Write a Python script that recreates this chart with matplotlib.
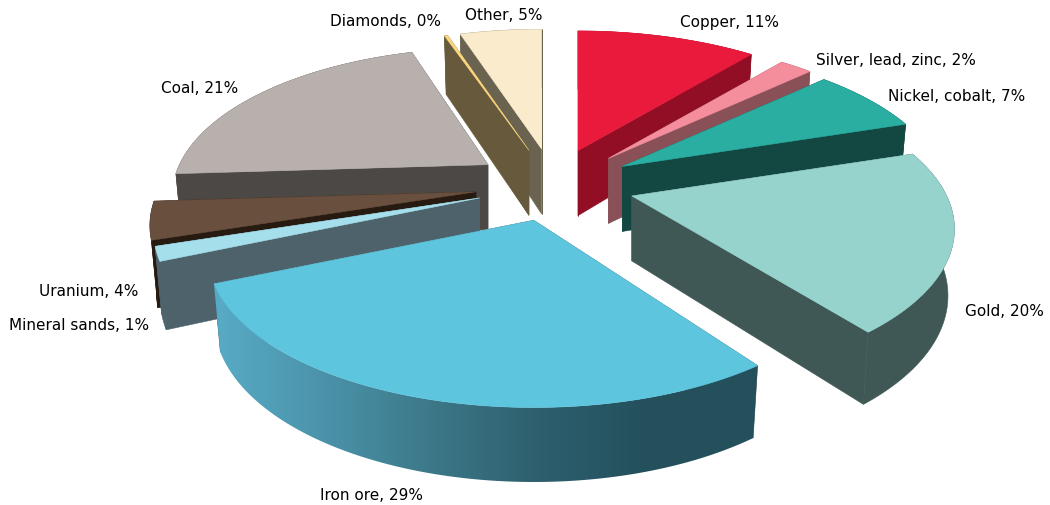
import numpy as np
import matplotlib
matplotlib.use('Agg')
import matplotlib.pyplot as plt
from matplotlib.colors import LinearSegmentedColormap
from matplotlib.patches import Polygon

# -------------------- Data --------------------
names = ['Copper', 'Silver, lead, zinc', 'Nickel, cobalt', 'Gold', 'Iron ore',
         'Mineral sands', 'Uranium', 'Coal', 'Diamonds', 'Other']
percent_labels = [11, 2, 7, 20, 29, 1, 4, 21, 0, 5]
# a bit finer than the rounded labels
shares = [11, 2, 7, 19.7, 28.8, 1.5, 4, 20.8, 0.2, 5]

# -------------------- Style --------------------
top_colors = ['#e91a3c', '#f48d9c', '#2baea2', '#96d3cd', '#5ec5de',
              '#a6dfec', '#694f3e', '#b8b0ac', '#fcd77f', '#fbebcd']
wall_colors = ['#920e24', '#8a5058', '#134842', '#3f5855', '#4d626b',
               '#4d626b', '#271a10', '#4b4845', '#675a3c', '#69634f']
radius_scale = [1, 1, 1, 0.99, 1, 1, 1, 0.97, 1, 1]
# small per slice corrections for the original's uneven perspective
trim_start = [0, 0, 0, 0, 0.5, 0, 0, 0, 0, 0]
trim_end = [0, 0, 0, 0.4, 0, 0, 0, -0.4, 0, 0]
nudge_x = [-3, 0, 0, 2, 0, 0, 0, 0, 0, 0]
draw_order = [7, 6, 5, 9, 8, 0, 1, 2, 3, 4]
iron_index = 4
iron_ramp = LinearSegmentedColormap.from_list(
    'iron', ['#58abc6', '#4b93aa', '#3c7888', '#2d5f6e', '#24505c', '#24505c'])

label_xy = [(729, 22), (896, 60), (957, 96), (1004, 312), (371, 496),
            (79, 325), (89, 292), (200, 88), (385, 21), (504, 15)]

CX, CY = 554, 186
RX, RY = 318, 146
PERSP = 0.22
EXPLODE = 0.25
DEPTH = 65


def project(u, v):
    s = 1 / (1 - PERSP * v)
    return RX * u * s, RY * v * s


def unit(theta):
    return np.sin(theta), -np.cos(theta)


def drop(x, y, v):
    # bottom edge of the slice, a bit narrower and deeper towards the viewer
    s = 1 / (1 - PERSP * v)
    return x * 0.98, y + DEPTH * s ** 0.55


fig = plt.figure(figsize=(10.5, 5.06), dpi=100)
ax = fig.add_axes([0, 0, 1, 1])
ax.set_xlim(0, 1050)
ax.set_ylim(506, 0)
ax.axis('off')

edges = np.cumsum([0] + shares) / sum(shares) * 2 * np.pi
pct_to_rad = 2 * np.pi / 100

for i in draw_order:
    t0, t1 = edges[i], edges[i + 1]
    mu, mv = unit((t0 + t1) / 2)
    ox, oy = CX + RX * EXPLODE * mu + nudge_x[i], CY + RY * EXPLODE * mv

    thetas = np.linspace(t0 + trim_start[i] * pct_to_rad, t1 - trim_end[i] * pct_to_rad, 120)
    us, vs = unit(thetas)
    xs, ys = project(us * radius_scale[i], vs * radius_scale[i])
    bx, by = drop(xs, ys, vs)

    walls = []
    arc = np.column_stack([np.r_[xs, bx[::-1]], np.r_[ys, by[::-1]]])
    walls.append((vs.mean(), arc, True))
    for k in (0, -1):
        q = np.array([(0, 0), (xs[k], ys[k]), (bx[k], by[k]), (0, DEPTH)])
        walls.append((vs[k] / 2, q, False))

    for _, q, is_arc in sorted(walls, key=lambda w: w[0]):
        pts = q + [ox, oy]
        if i == iron_index and is_arc:
            # left to right shading on the iron ore rim
            patch = Polygon(pts, closed=True, facecolor='none', edgecolor='none')
            ax.add_patch(patch)
            grad = np.linspace(0, 1, 256).reshape(1, -1)
            im = ax.imshow(grad, cmap=iron_ramp, aspect='auto', zorder=patch.get_zorder(),
                           extent=(pts[:, 0].min(), pts[:, 0].max(), pts[:, 1].max(), pts[:, 1].min()))
            im.set_clip_path(patch)
        else:
            ax.add_patch(Polygon(pts, closed=True, facecolor=wall_colors[i], edgecolor=wall_colors[i], lw=0.4))

    top = np.column_stack([np.r_[0, xs] + ox, np.r_[0, ys] + oy])
    ax.add_patch(Polygon(top, closed=True, facecolor=top_colors[i], edgecolor=top_colors[i], lw=0.4))

ax.set_xlim(0, 1050)
ax.set_ylim(506, 0)

for name, pct, (x, y) in zip(names, percent_labels, label_xy):
    ax.text(x, y, f"{name}, {pct}%", ha='center', va='center', fontsize=11,
            family='DejaVu Sans', color='black')

plt.savefig('out.png', dpi=100)
plt.close()
